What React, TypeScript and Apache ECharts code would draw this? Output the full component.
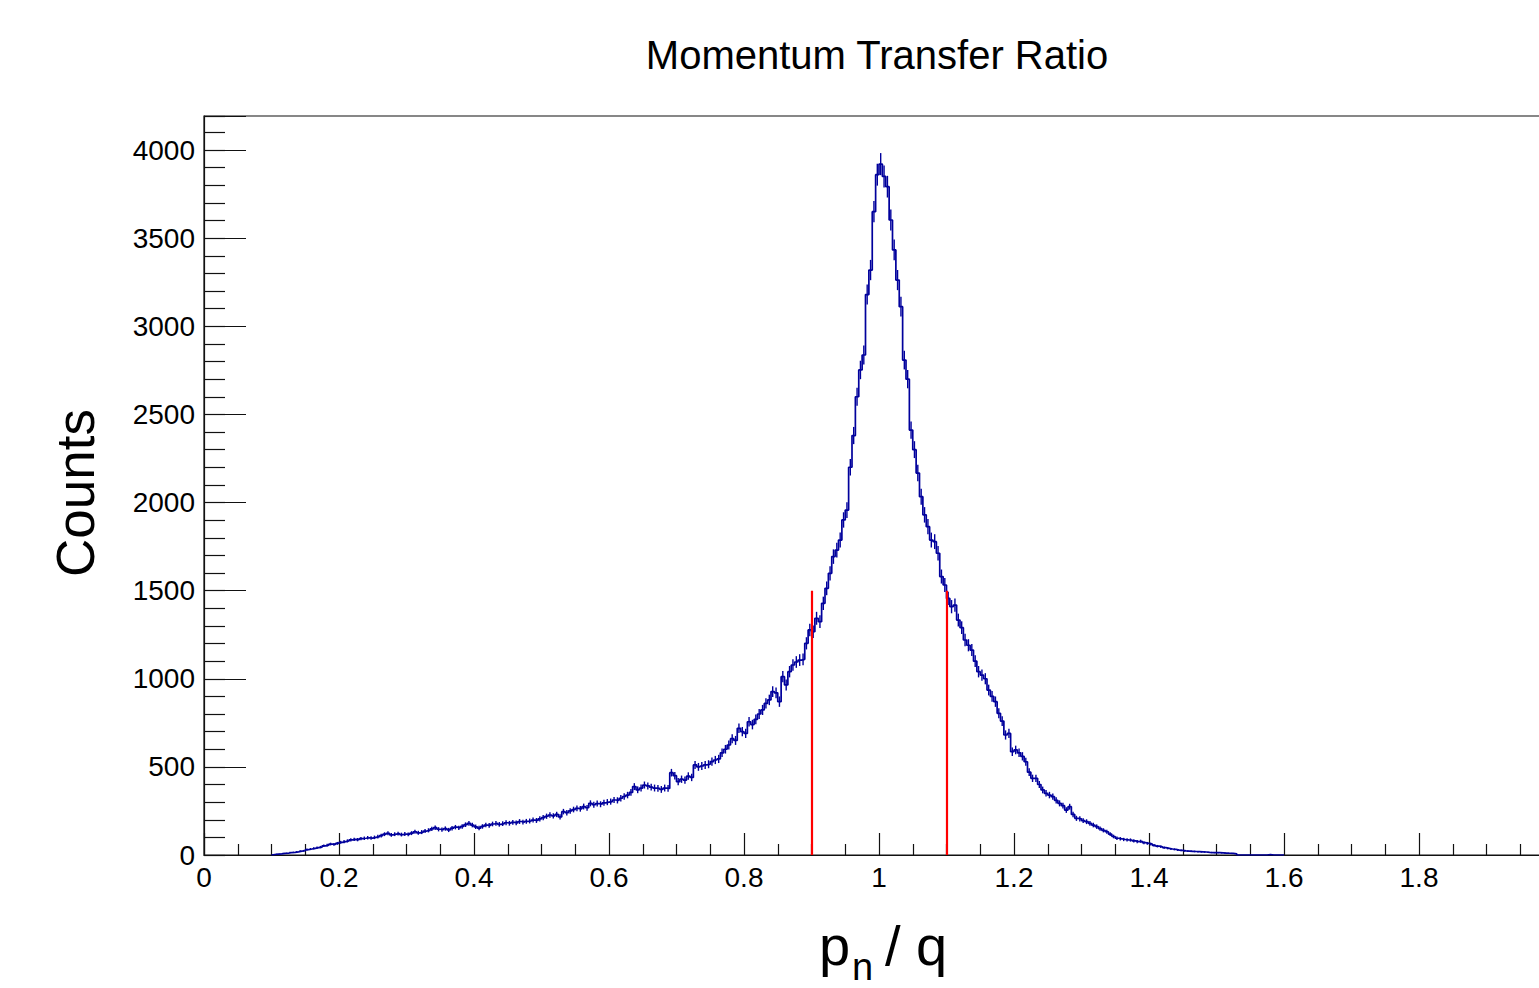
import React, { useEffect, useRef } from 'react';
import * as echarts from 'echarts';

// ---- data ----
const BIN_START = 0.1;
const BIN_WIDTH = 0.005;
const counts = [
  3, 5, 6, 9, 10, 14, 15, 18, 22, 24, 30, 34, 38, 42, 45, 52, 56, 62, 60, 66,
  72, 76, 80, 86, 89, 87, 93, 95, 98, 96, 100, 104, 110, 118, 123, 114, 118, 121, 116, 119,
  117, 124, 132, 126, 130, 136, 140, 148, 155, 146, 144, 150, 142, 152, 158, 154, 162, 172, 180, 170,
  160, 153, 162, 170, 168, 176, 180, 174, 178, 183, 180, 185, 182, 190, 186, 191, 193, 198, 196, 205,
  212, 220, 227, 222, 230, 216, 246, 240, 250, 258, 265, 262, 275, 268, 293, 285, 292, 288, 296, 300,
  303, 312, 310, 322, 332, 340, 355, 388, 370, 380, 397, 392, 385, 380, 378, 372, 380, 378, 467, 450,
  416, 430, 425, 448, 440, 511, 500, 505, 511, 515, 530, 539, 545, 580, 600, 624, 660, 650, 719, 700,
  690, 756, 740, 770, 800, 823, 860, 880, 927, 920, 870, 1012, 965, 1040, 1078, 1095, 1106, 1110, 1201, 1277,
  1267, 1343, 1324, 1428, 1513, 1598, 1693, 1730, 1787, 1901, 1957, 2200, 2380, 2600, 2752, 2837, 3180, 3319, 3650, 3860,
  3920, 3850, 3792, 3603, 3433, 3262, 3111, 2808, 2700, 2411, 2300, 2167, 2033, 1930, 1863, 1787, 1778, 1712, 1580, 1532,
  1456, 1409, 1418, 1333, 1290, 1220, 1190, 1163, 1100, 1040, 1021, 1000, 936, 900, 870, 804, 760, 681, 690, 586,
  596, 580, 560, 529, 470, 435, 435, 400, 369, 350, 340, 331, 310, 293, 280, 255, 274, 230, 208, 205,
  195, 189, 180, 170, 161, 150, 140, 132, 118, 105, 95, 92, 88, 86, 85, 80, 76, 78, 70, 66,
  62, 55, 50, 47, 42, 38, 34, 32, 28, 26, 23, 22, 21, 20, 19, 18, 17, 15, 14, 13,
  13, 12, 11, 10, 9, 7, 0, 0, 0, 0, 0, 0, 0, 0, 0, 3, 0, 0, 0, 0,
];

const X_MIN = 0;
const X_MAX = 2;
const X_MAJOR = 0.2;
const X_LABEL_MAX = 1.8;
const Y_MIN = 0;
const Y_MAX = 4193;
const Y_MAJOR = 500;
const Y_MINOR = 100;
const Y_LABEL_MAX = 4000;

const CUT_LOW = 0.9;
const CUT_HIGH = 1.1;
const CUT_HEIGHT = 1500;

const TITLE = 'Momentum Transfer Ratio';
const Y_TITLE = 'Counts';
const X_TITLE_MAIN = 'p';
const X_TITLE_SUB = 'n';
const X_TITLE_REST = '/ q';

const FONT = '"Liberation Sans", Arial, Helvetica, sans-serif';
const HIST_COLOR = '#00009c';

export default function App() {
  const ref = useRef<HTMLDivElement>(null);

  useEffect(() => {
    if (!ref.current) return;
    const chart = echarts.init(ref.current, undefined, { renderer: 'svg' });

    const edges = counts.map((_, i) => +(BIN_START + i * BIN_WIDTH).toFixed(4));
    const stepData: number[][] = [[BIN_START, 0]];
    counts.forEach((c, i) => stepData.push([edges[i], c]));
    const lastEdge = +(BIN_START + counts.length * BIN_WIDTH).toFixed(4);
    stepData.push([lastEdge, 0]);

    const errData = counts
      .map((c, i) => [edges[i] + BIN_WIDTH / 2, c - Math.sqrt(c), c + Math.sqrt(c), c])
      .filter((d) => d[3] > 0);

    const option: any = {
      animation: false,
      backgroundColor: '#ffffff',
      grid: {
        left: 204,
        top: 116,
        width: 1350,
        height: 739,
        containLabel: false,
        outerBoundsMode: 'none',
        show: true,
        borderColor: '#111',
        borderWidth: 1.2,
        backgroundColor: 'transparent',
      },
      xAxis: {
        type: 'value',
        min: X_MIN,
        max: X_MAX,
        interval: X_MAJOR,
        axisLine: { show: true, lineStyle: { color: '#111', width: 1.2 } },
        axisTick: { show: true, inside: true, length: 22, lineStyle: { color: '#111', width: 1.2 } },
        minorTick: { show: true, splitNumber: 4, length: 11, lineStyle: { color: '#111', width: 1.2 } },
        splitLine: { show: false },
        minorSplitLine: { show: false },
        axisLabel: {
          show: true,
          margin: 8,
          color: '#000',
          fontFamily: FONT,
          fontSize: 28,
          formatter: (v: number) => (v <= X_LABEL_MAX + 1e-9 ? String(+v.toFixed(2)) : ''),
        },
      },
      yAxis: [
        {
          type: 'value',
          min: Y_MIN,
          max: Y_MAX,
          interval: Y_MAJOR,
          position: 'left',
          axisLine: { show: true, lineStyle: { color: '#111', width: 1.2 } },
          axisTick: { show: true, inside: true, length: 42, lineStyle: { color: '#111', width: 1.2 } },
          splitLine: { show: false },
          axisLabel: {
            show: true,
            margin: 9,
            color: '#000',
            fontFamily: FONT,
            fontSize: 28,
            formatter: (v: number) => (v % Y_MAJOR === 0 && v <= Y_LABEL_MAX ? String(v) : ''),
          },
        },
        {
          type: 'value',
          min: Y_MIN,
          max: Y_MAX,
          interval: Y_MINOR,
          position: 'left',
          axisLine: { show: false },
          axisTick: { show: true, inside: true, length: 21, lineStyle: { color: '#111', width: 1.2 } },
          splitLine: { show: false },
          axisLabel: { show: false },
        },
      ],
      series: [
        {
          type: 'line',
          data: stepData,
          step: 'end',
          showSymbol: false,
          symbol: 'none',
          lineStyle: { color: HIST_COLOR, width: 1.7 },
          yAxisIndex: 0,
          z: 3,
          markLine: {
            silent: true,
            symbol: 'none',
            label: { show: false },
            lineStyle: { color: '#ff0000', width: 2.2, type: 'solid' },
            data: [
              [{ coord: [CUT_LOW, 0] }, { coord: [CUT_LOW, CUT_HEIGHT] }],
              [{ coord: [CUT_HIGH, 0] }, { coord: [CUT_HIGH, CUT_HEIGHT] }],
            ],
          },
        },
        {
          type: 'custom',
          data: errData,
          yAxisIndex: 0,
          encode: { x: 0, y: [1, 2] },
          z: 2,
          renderItem: (_params: any, api: any) => {
            const x = api.value(0);
            const p1 = api.coord([x, api.value(1)]);
            const p2 = api.coord([x, api.value(2)]);
            return {
              type: 'line',
              shape: { x1: p1[0], y1: p1[1], x2: p2[0], y2: p2[1] },
              style: { stroke: HIST_COLOR, lineWidth: 1.4 },
            };
          },
        },
      ],
      graphic: [
        {
          type: 'text',
          x: 877,
          y: 55,
          style: {
            text: TITLE,
            fontFamily: FONT,
            fontSize: 40,
            fill: '#000',
            align: 'center',
            verticalAlign: 'middle',
            textAlign: 'center',
            textVerticalAlign: 'middle',
          },
        },
        {
          type: 'text',
          x: 75,
          y: 493,
          rotation: Math.PI / 2,
          style: {
            text: Y_TITLE,
            fontFamily: FONT,
            fontSize: 53,
            fill: '#000',
            align: 'center',
            verticalAlign: 'middle',
            textAlign: 'center',
            textVerticalAlign: 'middle',
          },
        },
        {
          type: 'text',
          x: 819,
          y: 945,
          style: {
            text: X_TITLE_MAIN,
            fontFamily: FONT,
            fontSize: 56,
            fill: '#000',
            align: 'left',
            verticalAlign: 'middle',
            textAlign: 'left',
            textVerticalAlign: 'middle',
          },
        },
        {
          type: 'text',
          x: 852,
          y: 967,
          style: {
            text: X_TITLE_SUB,
            fontFamily: FONT,
            fontSize: 38,
            fill: '#000',
            align: 'left',
            verticalAlign: 'middle',
            textAlign: 'left',
            textVerticalAlign: 'middle',
          },
        },
        {
          type: 'text',
          x: 885,
          y: 945,
          style: {
            text: X_TITLE_REST,
            fontFamily: FONT,
            fontSize: 56,
            fill: '#000',
            align: 'left',
            verticalAlign: 'middle',
            textAlign: 'left',
            textVerticalAlign: 'middle',
          },
        },
      ],
    };

    chart.setOption(option);
    return () => chart.dispose();
  }, []);

  return (
    <div
      ref={ref}
      style={{ position: 'absolute', left: 0, top: 0, width: 1539, height: 988, overflow: 'hidden', background: '#fff' }}
    />
  );
}
